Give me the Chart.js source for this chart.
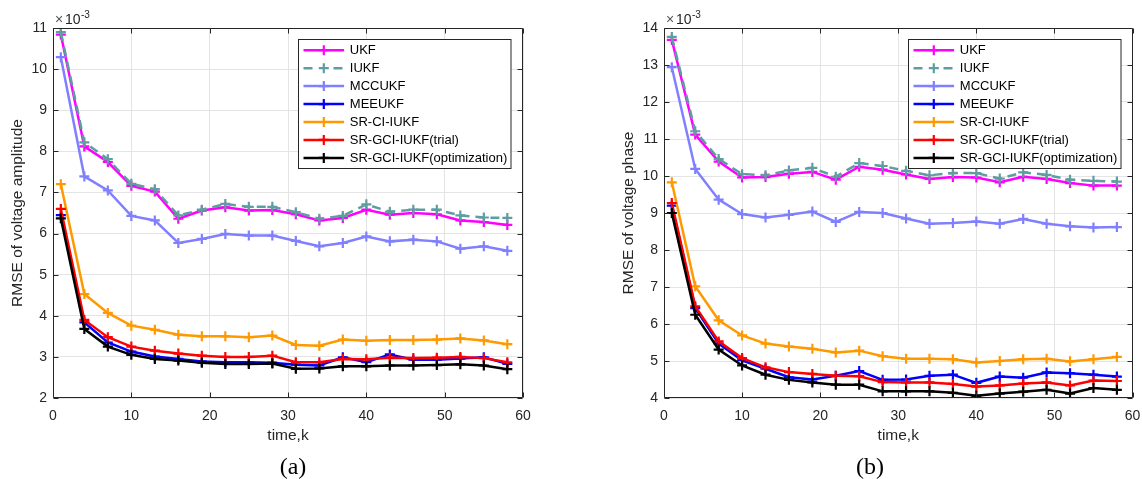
<!DOCTYPE html>
<html><head><meta charset="utf-8">
<script src="https://cdn.jsdelivr.net/npm/chart.js@4.4.1/dist/chart.umd.min.js"></script>
<style>
html,body{margin:0;padding:0;background:#fff;width:1142px;height:479px;overflow:hidden;}
.wrap{position:absolute;top:0;width:571px;height:479px;}
.cap{position:absolute;font-family:"Liberation Serif","Times New Roman",serif;font-size:24px;color:#000;transform:translateX(-50%);top:452px;line-height:28px;}
</style></head>
<body>
<div class="wrap" style="left:0"><canvas id="c1" width="571" height="479"></canvas></div>
<div class="wrap" style="left:571px"><canvas id="c2" width="571" height="479"></canvas></div>
<div class="cap" style="left:293px">(a)</div>
<div class="cap" style="left:870px">(b)</div>
<script>
// ---- data (values in units of 1e-3) ----
const timeK = [1,4,7,10,13,16,19,22,25,28,31,34,37,40,43,46,49,52,55,58];
const seriesNames = ['UKF','IUKF','MCCUKF','MEEUKF','SR-CI-IUKF','SR-GCI-IUKF(trial)','SR-GCI-IUKF(optimization)'];

const ampUKF    = [10.84,8.12,7.74,7.16,7.02,6.36,6.56,6.64,6.56,6.57,6.47,6.32,6.38,6.58,6.46,6.50,6.47,6.32,6.28,6.21];
const ampIUKF   = [10.90,8.22,7.81,7.21,7.08,6.44,6.58,6.72,6.65,6.65,6.52,6.36,6.43,6.71,6.53,6.58,6.58,6.44,6.39,6.38];
const ampMCCUKF = [10.29,7.39,7.05,6.43,6.32,5.77,5.87,5.99,5.95,5.95,5.82,5.69,5.77,5.93,5.81,5.85,5.81,5.63,5.69,5.58];
const ampMEEUKF = [6.45,3.84,3.35,3.13,3.01,2.95,2.89,2.87,2.87,2.86,2.81,2.79,2.99,2.87,3.06,2.93,2.93,2.96,2.99,2.83];
const ampSRCI   = [7.20,4.53,4.07,3.76,3.66,3.54,3.50,3.50,3.48,3.52,3.29,3.27,3.42,3.39,3.41,3.41,3.42,3.45,3.40,3.31];
const ampTrial  = [6.60,3.90,3.48,3.25,3.15,3.08,3.03,3.00,3.00,3.03,2.87,2.87,2.95,2.94,2.98,2.97,2.98,3.00,2.97,2.87];
const ampOpt    = [6.37,3.68,3.25,3.05,2.95,2.91,2.86,2.83,2.83,2.84,2.71,2.72,2.77,2.77,2.79,2.79,2.80,2.82,2.79,2.70];

const phUKF    = [13.68,11.12,10.39,9.96,9.97,10.06,10.11,9.90,10.25,10.17,10.04,9.92,9.97,9.96,9.83,9.98,9.92,9.81,9.74,9.74];
const phIUKF   = [13.76,11.21,10.46,10.05,10.02,10.15,10.22,9.98,10.35,10.27,10.14,10.02,10.08,10.08,9.93,10.10,10.03,9.90,9.87,9.85];
const phMCCUKF = [12.94,10.19,9.36,8.97,8.88,8.95,9.04,8.76,9.03,9.00,8.85,8.71,8.73,8.77,8.71,8.84,8.71,8.64,8.61,8.62];
const phMEEUKF = [9.20,6.43,5.47,5.02,4.79,4.56,4.50,4.60,4.73,4.49,4.50,4.60,4.63,4.41,4.58,4.55,4.69,4.67,4.63,4.58];
const phSRCI   = [9.83,7.02,6.10,5.69,5.47,5.39,5.33,5.23,5.28,5.13,5.06,5.06,5.05,4.96,5.00,5.05,5.06,4.99,5.05,5.11];
const phTrial  = [9.27,6.48,5.53,5.08,4.83,4.70,4.65,4.60,4.59,4.43,4.42,4.42,4.38,4.31,4.34,4.39,4.42,4.34,4.47,4.46];
const phOpt    = [9.00,6.25,5.31,4.88,4.63,4.49,4.42,4.36,4.36,4.18,4.18,4.18,4.14,4.06,4.12,4.17,4.22,4.12,4.27,4.22];

const xTicks = [0,10,20,30,40,50,60];
const ampYTicks = [2,3,4,5,6,7,8,9,10,11];
const phYTicks = [4,5,6,7,8,9,10,11,12,13,14];

// ---- styles ----
const colors = ['#ff00ff','#5f9ea0','#8080ff','#0000ff','#ff9900','#ff0000','#000000'];
const dashes = [[],[9,6],[],[],[],[],[]];
Chart.defaults.font.family = "'Liberation Sans', Arial, Helvetica, sans-serif";
const AX = '#262626';

function makeDatasets(arrs){
  return arrs.map((vals,i)=>({
    label: seriesNames[i],
    data: timeK.map((k,j)=>({x:k,y:vals[j]})),
    borderColor: colors[i], backgroundColor: colors[i],
    borderWidth: 2.5, borderDash: dashes[i],
    pointStyle:'cross', pointRadius:5, pointBorderWidth:2.2,
    pointBorderColor: colors[i], pointHoverRadius:5,
    tension:0, order: arrs.length - i
  }));
}

const matlabAxes = {
  id:'matlabAxes',
  afterDatasetsDraw(chart){
    const {ctx, chartArea:a, scales:{x,y}} = chart;
    const L = Math.round(a.left)+0.5, R = Math.round(a.right)-0.5, T = Math.round(a.top)+0.5, B = Math.round(a.bottom)-0.5;
    ctx.save();
    ctx.strokeStyle = AX; ctx.lineWidth = 1;
    ctx.beginPath();
    ctx.rect(L, T, R-L, B-T);
    x.ticks.forEach(t=>{
      const p = Math.round(x.getPixelForValue(t.value))+0.5;
      ctx.moveTo(p,B); ctx.lineTo(p,B-5);
      ctx.moveTo(p,T); ctx.lineTo(p,T+5);
    });
    y.ticks.forEach(t=>{
      const p = Math.round(y.getPixelForValue(t.value))+0.5;
      ctx.moveTo(L,p); ctx.lineTo(L+5,p);
      ctx.moveTo(R,p); ctx.lineTo(R-5,p);
    });
    ctx.stroke();
    // exponent
    ctx.textBaseline='alphabetic'; ctx.textAlign='left';
    ctx.font = "14px 'Liberation Sans', Arial, sans-serif";
    ctx.fillStyle = '#555';
    ctx.fillText('\u00d7', a.left+2, a.top-4);
    ctx.fillStyle = AX;
    ctx.fillText('10', a.left+12, a.top-4);
    ctx.font = "10px 'Liberation Sans', Arial, sans-serif";
    ctx.fillText('-3', a.left+28, a.top-10);
    // legend
    const bw = 212.5, bh = 129;
    const bx = Math.round(a.right - 12.5 - bw)+0.5, by = Math.round(a.top + 11)+0.5;
    ctx.fillStyle = '#fff';
    ctx.fillRect(bx, by, bw, bh);
    ctx.strokeStyle = AX; ctx.lineWidth = 1;
    ctx.strokeRect(bx, by, bw, bh);
    ctx.font = "13px 'Liberation Sans', Arial, sans-serif";
    ctx.textBaseline = 'middle';
    chart.data.datasets.forEach((ds,i)=>{
      const cy = by + 10.7 + i*17.95;
      ctx.strokeStyle = ds.borderColor; ctx.lineWidth = ds.borderWidth;
      ctx.setLineDash(ds.borderDash||[]);
      ctx.beginPath(); ctx.moveTo(bx+5, cy); ctx.lineTo(bx+45.6, cy); ctx.stroke();
      ctx.setLineDash([]);
      const mx = bx+25.3;
      if ((ds.borderDash||[]).length){ ctx.fillStyle='#fff'; ctx.fillRect(mx-6,cy-3,12,6); }
      ctx.lineWidth = ds.pointBorderWidth;
      ctx.beginPath(); ctx.moveTo(mx-5,cy); ctx.lineTo(mx+5,cy); ctx.moveTo(mx,cy-5); ctx.lineTo(mx,cy+5); ctx.stroke();
      ctx.fillStyle = '#000';
      ctx.fillText(ds.label, bx+51.3, cy+0.5);
    });
    ctx.restore();
  }
};

function makeChart(id, arrs, ymin, ymax, yTicks, ytitle, padL, padR){
  return new Chart(document.getElementById(id), {
    type:'line',
    data:{ datasets: makeDatasets(arrs) },
    options:{
      responsive:false, animation:false, devicePixelRatio:1,
      layout:{padding:{left:padL, right:padR, top:28, bottom:34}},
      plugins:{legend:{display:false}, tooltip:{enabled:false}},
      scales:{
        x:{type:'linear', min:0, max:60,
          afterBuildTicks(s){ s.ticks = xTicks.map(v=>({value:v})); },
          ticks:{color:AX, font:{size:14}, padding:10, maxRotation:0, autoSkip:false},
          grid:{color:'#e4e4e4', lineWidth:1, drawTicks:false},
          border:{display:false},
          title:{display:true, text:'time,k', color:AX, font:{size:15.5}, padding:{top:0,bottom:0}},
          afterFit(s){ s.height = 47; s.paddingLeft = 0; s.paddingRight = 0; }
        },
        y:{type:'linear', min:ymin, max:ymax,
          afterBuildTicks(s){ s.ticks = yTicks.map(v=>({value:v})); },
          ticks:{color:AX, font:{size:14}, padding:6, autoSkip:false},
          grid:{color:'#e4e4e4', lineWidth:1, drawTicks:false},
          border:{display:false},
          title:{display:true, text:ytitle, color:AX, font:{size:15.5}, padding:{top:8,bottom:0}},
          afterFit(s){ s.width = 53; s.paddingTop = 0; s.paddingBottom = 0; }
        }
      }
    },
    plugins:[matlabAxes]
  });
}

makeChart('c1', [ampUKF,ampIUKF,ampMCCUKF,ampMEEUKF,ampSRCI,ampTrial,ampOpt], 2, 11, ampYTicks, 'RMSE of voltage amplitude', 0, 48);
makeChart('c2', [phUKF,phIUKF,phMCCUKF,phMEEUKF,phSRCI,phTrial,phOpt], 4, 14, phYTicks, 'RMSE of voltage phase', 40, 9.5);
</script>
</body></html>
